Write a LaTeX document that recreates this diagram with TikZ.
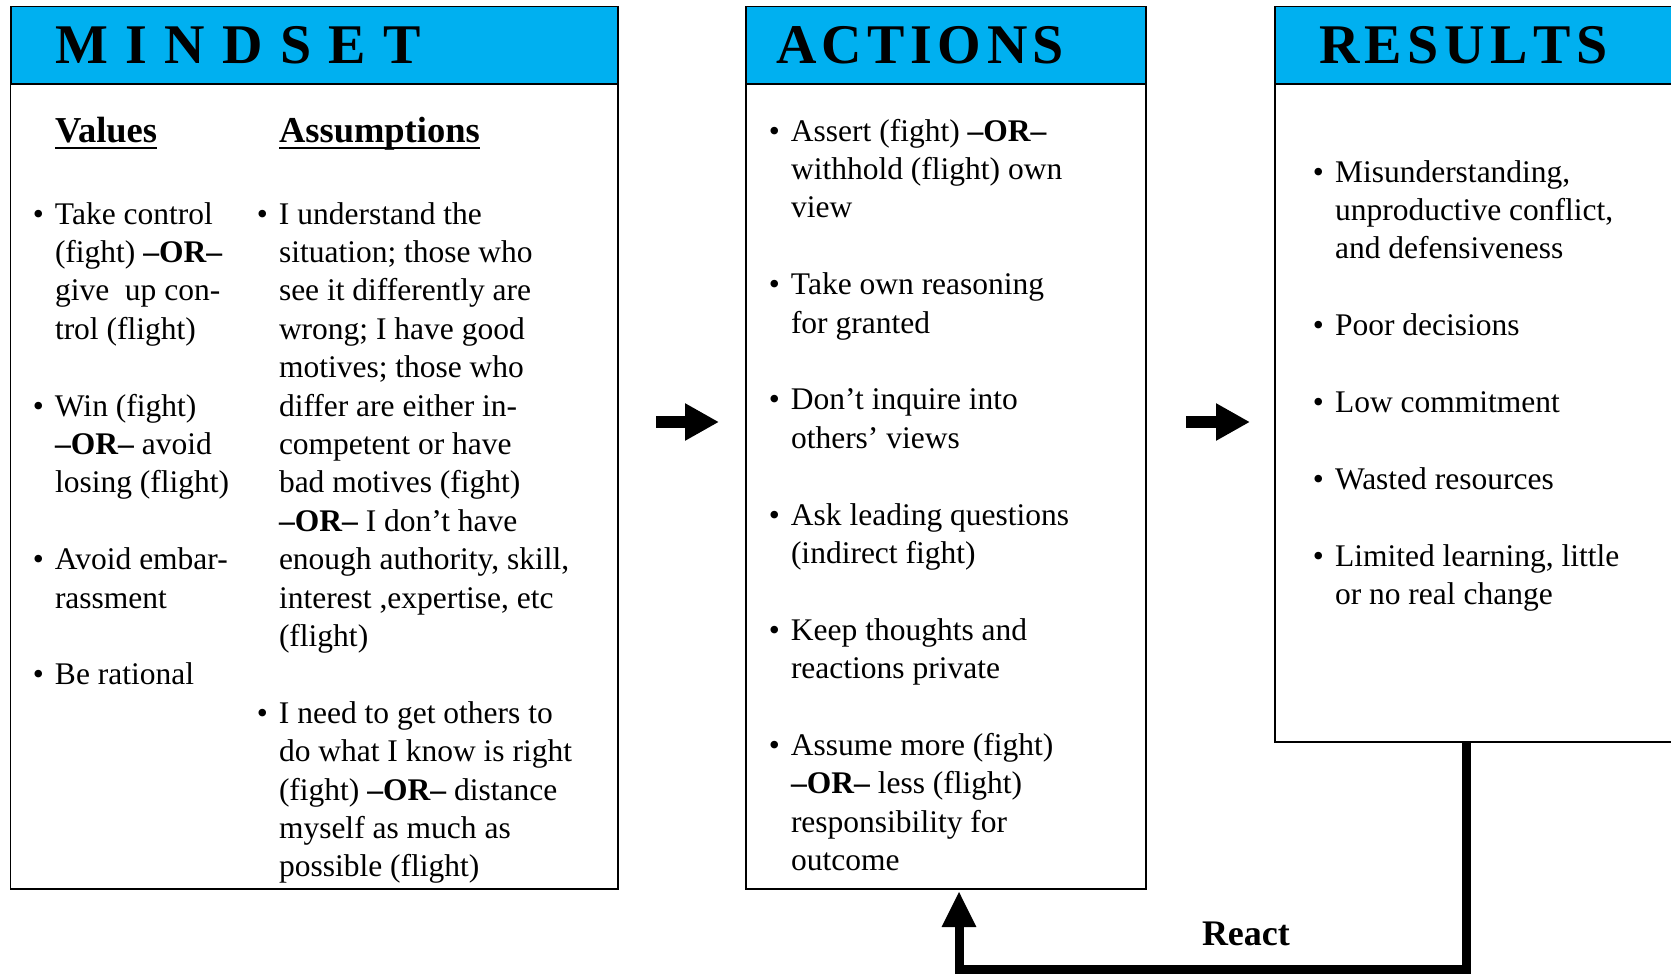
\documentclass[tikz,border=0pt]{standalone}
\usepackage{fontspec}
\setmainfont{Liberation Serif}
\usetikzlibrary{positioning, arrows.meta}

\definecolor{headblue}{RGB}{0,176,240}
\newsavebox\headingbox
\newcommand\hdline[1]{\sbox\headingbox{#1}\rlap{\rule[-7.4pt]{\wd\headingbox}{2.4pt}}\usebox\headingbox}
\newcommand\bul{\strut\llap{\textbullet\hspace{11pt}}}
\newcommand\OR{\textbf{--OR--}}
\newcommand\lsp{\kern5.5pt}
\newcommand\wsp{\kern17.4pt}
\newcommand\skipline{\\[38.4pt]}

\begin{document}
\begin{tikzpicture}[
x=1pt, y=1pt,
every node/.style={inner sep=0pt, outer sep=0pt},
headbox/.style={draw, line width=1.6pt, fill=headblue, anchor=north west, minimum height=77.6pt, align=left, font=\fontsize{56}{60}\selectfont\bfseries},
bodybox/.style={draw, line width=1.3pt},
coltext/.style={anchor=north west, align=left, font=\fontsize{31.5}{38.4}\selectfont},
heading/.style={anchor=base west, font=\fontsize{36.5}{40}\selectfont\bfseries},
bigarrow/.style={line width=11.6pt, -{Triangle[length=34pt, width=35pt]}},
feedback/.style={line width=9pt, -{Triangle[length=36pt, width=32pt]}}
]
\useasboundingbox (0,0) rectangle (1671,-974);

% MINDSET
\node (mindhead) [headbox, text width=518.7pt, inner xsep=44.3pt] at (10.7,-6.4) {M\wsp I\wsp N\wsp D\wsp S\wsp E\wsp T};
\node (mindbody) [bodybox, minimum width=607.3pt, minimum height=805pt, below=0pt of mindhead] {};
\node (values) [heading] at (55,-142) {\hdline{Values}};
\node (assum) [heading] at (279,-142) {\hdline{Assumptions}};
\node (valtext) [coltext] at (55,-197.3) {\bul Take control\\
(fight) \OR\\
give\ \ up con-\\
trol (flight)\skipline
\bul Win (fight)\\
\OR{} avoid\\
losing (flight)\skipline
\bul Avoid embar-\\
rassment\skipline
\bul Be rational};
\node (assumtext) [coltext] at (279,-197.3) {\bul I understand the\\
situation; those who\\
see it differently are\\
wrong; I have good\\
motives; those who\\
differ are either in-\\
competent or have\\
bad motives (fight)\\
\OR{} I don’t have\\
enough authority, skill,\\
interest ,expertise, etc\\
(flight)\skipline
\bul I need to get others to\\
do what I know is right\\
(fight) \OR{} distance\\
myself as much as\\
possible (flight)};

% ACTIONS
\node (acthead) [headbox, text width=340pt, inner xsep=30pt] at (746,-6.4) {A\lsp C\lsp T\lsp I\lsp O\lsp N\lsp S};
\node (actbody) [bodybox, minimum width=400pt, minimum height=805pt, below=0pt of acthead] {};
\node (acttext) [coltext] at (791,-114.3) {\bul Assert (fight) \OR\\
withhold (flight) own\\
view\skipline
\bul Take own reasoning\\
for granted\skipline
\bul Don’t inquire into\\
others’ views\skipline
\bul Ask leading questions\\
(indirect fight)\skipline
\bul Keep thoughts and\\
reactions private\skipline
\bul Assume more (fight)\\
\OR{} less (flight)\\
responsibility for\\
outcome};

% RESULTS
\node (reshead) [headbox, text width=337pt, inner xsep=44pt] at (1275,-6.4) {R\lsp E\lsp S\lsp U\lsp L\lsp T\lsp S};
\node (resbody) [bodybox, minimum width=425pt, minimum height=658pt, below=0pt of reshead] {};
\node (restext) [coltext] at (1335,-155.3) {\bul Misunderstanding,\\
unproductive conflict,\\
and defensiveness\skipline
\bul Poor decisions\skipline
\bul Low commitment\skipline
\bul Wasted resources\skipline
\bul Limited learning, little\\
or no real change};

% FLECHAS
\coordinate (arrowrow) at (0,-422);
\draw[bigarrow, shorten <=38pt, shorten >=27pt] (mindbody.east |- arrowrow) -- (actbody.west |- arrowrow);
\draw[bigarrow, shorten <=40pt, shorten >=25pt] (actbody.east |- arrowrow) -- (resbody.west |- arrowrow);

% React
\coordinate (turnR) at (1466,-969);
\coordinate (turnL) at (959,-969);
\draw[feedback, shorten >=2pt] (resbody.south -| turnR) -- (turnR) -- node[pos=0.434, anchor=base, yshift=24pt, font=\fontsize{36}{40}\selectfont\bfseries] (react) {React} (turnL) -- (actbody.south -| turnL);

\end{tikzpicture}
\end{document}
